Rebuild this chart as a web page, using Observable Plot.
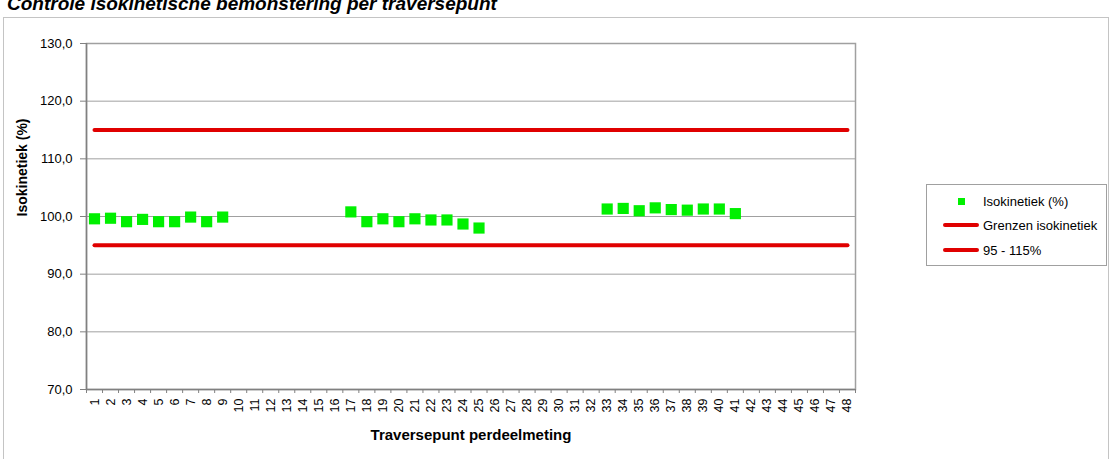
<!DOCTYPE html>
<html>
<head>
<meta charset="utf-8">
<script src="https://cdn.jsdelivr.net/npm/d3@7"></script>
<script src="https://cdn.jsdelivr.net/npm/@observablehq/plot@0.6"></script>
<style>
  html, body { margin: 0; padding: 0; background: #fff; }
  body { width: 1110px; height: 459px; overflow: hidden; position: relative; font-family: "Liberation Sans", Arial, sans-serif; }
  #title { position: absolute; left: 7px; top: -7px; font-size: 19px; font-weight: bold; font-style: italic; color: #000; white-space: nowrap; }
  #outer { position: absolute; left: 3px; top: 17px; width: 1106px; height: 445px; border: 1px solid #c4c4c4; box-sizing: border-box; }
  #chart { position: absolute; left: 0; top: 0; }
  #legend { position: absolute; left: 926px; top: 184px; width: 181px; height: 82px; border: 1px solid #a0a0a0; box-sizing: border-box; font-size: 13px; color: #000; }
  .item { position: absolute; left: 56px; white-space: nowrap; line-height: 15px; }
  .sq { position: absolute; left: 31px; width: 7px; height: 7px; background: #00f000; }
  .ln { position: absolute; left: 16px; width: 36px; height: 4px; background: #e00000; border-radius: 2px; }
  g[aria-label="y-axis tick label"] { font-size: 13px !important; }
  g[aria-label="x-axis tick label"] { font-size: 12.5px !important; }
</style>
</head>
<body>
<div id="outer"></div>
<div id="title">Controle isokinetische bemonstering per traversepunt</div>
<div id="chart"></div>
<div id="legend">
  <div class="sq" style="top:13px"></div><div class="item" style="top:9px">Isokinetiek (%)</div>
  <div class="ln" style="top:38px"></div><div class="item" style="top:33px">Grenzen isokinetiek</div>
  <div class="ln" style="top:63px"></div><div class="item" style="top:58px">95 - 115%</div>
</div>
<script>
// Data
const traversepunten = d3.range(1, 49);
const meetpunten = [1,2,3,4,5,6,7,8,9, 17,18,19,20,21,22,23,24,25, 33,34,35,36,37,38,39,40,41];
const isokinetiek = [99.6,99.7,99.1,99.5,99.1,99.1,99.9,99.1,99.9, 100.8,99.1,99.6,99.1,99.6,99.4,99.4,98.7,98.0, 101.3,101.4,101.0,101.5,101.2,101.1,101.3,101.3,100.5];
const grensBoven = 115;
const grensOnder = 95;
const yTicks = [70,80,90,100,110,120,130];

const points = meetpunten.map((p, i) => ({x: p, y: isokinetiek[i]}));
const limitLine = v => [{x: traversepunten[0], y: v}, {x: traversepunten[traversepunten.length - 1], y: v}];
const fmt = d => d.toFixed(1).replace(".", ",");

const chart = Plot.plot({
  width: 1110,
  height: 459,
  marginLeft: 86,
  marginRight: 255,
  marginTop: 43,
  marginBottom: 70,
  style: { fontFamily: "Liberation Sans, Arial, sans-serif", background: "transparent", color: "#000" },
  x: { domain: [0.5, 48.5] },
  y: { domain: [70, 130] },
  marks: [
    Plot.gridY(yTicks, { stroke: "#a0a0a0", strokeOpacity: 1, strokeWidth: 1 }),
    Plot.frame({ stroke: "#a0a0a0", strokeWidth: 1.5 }),
    Plot.ruleX([0.5], { stroke: "#808080", strokeWidth: 1.5 }),
    Plot.ruleY([70], { stroke: "#808080", strokeWidth: 1.5 }),
    Plot.axisY({ ticks: yTicks, tickFormat: fmt, tickSize: 6, tickPadding: 8, fontSize: 13, label: null, stroke: "#808080" }),
    Plot.axisX({ ticks: d3.range(0.5, 49, 1), tickFormat: () => "", tickSize: 4, label: null, stroke: "#808080" }),
    Plot.axisX({ ticks: traversepunten, tickFormat: d => String(d), tickSize: 0, tickPadding: 9, tickRotate: -90, fontSize: 12.5, label: null }),
    Plot.lineY(limitLine(grensBoven), { x: "x", y: "y", stroke: "#e00000", strokeWidth: 4 }),
    Plot.lineY(limitLine(grensOnder), { x: "x", y: "y", stroke: "#e00000", strokeWidth: 4 }),
    Plot.dot(points, { x: "x", y: "y", symbol: "square", r: 6.3, fill: "#00f000", stroke: "none" }),
    Plot.text(["Traversepunt perdeelmeting"], { frameAnchor: "bottom", dy: 50, fontSize: 15, fontWeight: "bold", fill: "#000" }),
    Plot.text(["Isokinetiek (%)"], { frameAnchor: "left", dx: -64, rotate: -90, fontSize: 14, fontWeight: "bold", fill: "#000" })
  ]
});
document.getElementById("chart").appendChild(chart);
</script>
</body>
</html>
